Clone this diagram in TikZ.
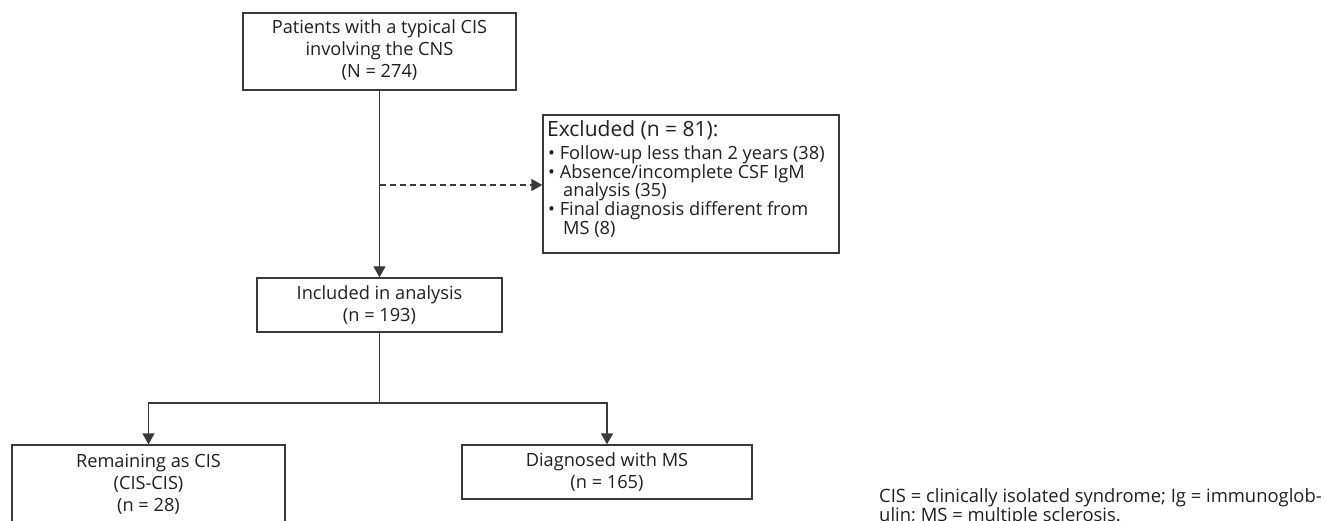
\documentclass[tikz,border=0pt]{standalone}
\usepackage{fontspec}
\setmainfont{Open Sans}
\usetikzlibrary{arrows.meta}
\definecolor{linegray}{HTML}{3A3A3A}
\definecolor{txt}{HTML}{231F20}
\begin{document}
\begin{tikzpicture}[x=1pt,y=-1pt,
  box/.style={draw=linegray, line width=1.3pt, inner sep=0pt, align=center, text=txt, font=\fontsize{18.2}{22}\selectfont},
  conn/.style={draw=linegray, line width=1.3pt},
  arr/.style={conn, -{Triangle[length=11pt,width=12pt]}},
  dashedarr/.style={arr, dash pattern=on 6pt off 4pt},
  exline/.style={anchor=base west, inner sep=0pt, text=txt, font=\fontsize{18.2}{18.7}\selectfont},
  exhead/.style={anchor=base west, inner sep=0pt, text=txt, font=\fontsize{21}{22}\selectfont}
]
\useasboundingbox (0,0) rectangle (1325,521);
\fill[white] (0,0) rectangle (1325,521);

\node[box, minimum width=273pt, minimum height=77pt] (top) at (379.5,51.5)
  {\raisebox{-4pt}{\begin{tabular}{@{}c@{}}Patients with a typical CIS\\involving the CNS\\(N = 274)\end{tabular}}};
\node[box, minimum width=296pt, minimum height=138pt] (excl) at (691,184) {};
\node[exhead] (exh) at (547,137) {Excluded (n = 81):};
\node[exline] (ex1) at (548,159.5) {• Follow-up less than 2 years (38)};
\node[exline] (ex2) at (548,178.5) {• Absence/incomplete CSF IgM};
\node[exline] (ex2b) at (563,196.5) {analysis (35)};
\node[exline] (ex3) at (548,215.5) {• Final diagnosis different from};
\node[exline] (ex3b) at (563,234.5) {MS (8)};
\node[box, minimum width=245pt, minimum height=54pt] (incl) at (379.5,305)
  {Included in analysis\\(n = 193)};
\node[box, minimum width=273pt, minimum height=79pt] (cis) at (148.5,484.5)
  {Remaining as CIS\\(CIS-CIS)\\(n = 28)};
\node[box, minimum width=290pt, minimum height=54pt] (ms) at (607,472)
  {Diagnosed with MS\\(n = 165)};

\coordinate (j1) at (379.5,185);
\coordinate (split) at (379.5,403);
\draw[arr] (top.south) -- (incl.north);
\draw[dashedarr] (j1) -- (j1 -| excl.west);
\draw[conn] (incl.south) -- (split);
\draw[arr] (split) -| (cis.north);
\draw[arr] (split) -| (ms.north);

\node[anchor=north west, align=left, inner sep=0pt, text=txt, font=\fontsize{18.4}{19.5}\selectfont] (note) at (879,488)
  {CIS = clinically isolated syndrome; Ig = immunoglob-\\ulin; MS = multiple sclerosis.};
\end{tikzpicture}
\end{document}
